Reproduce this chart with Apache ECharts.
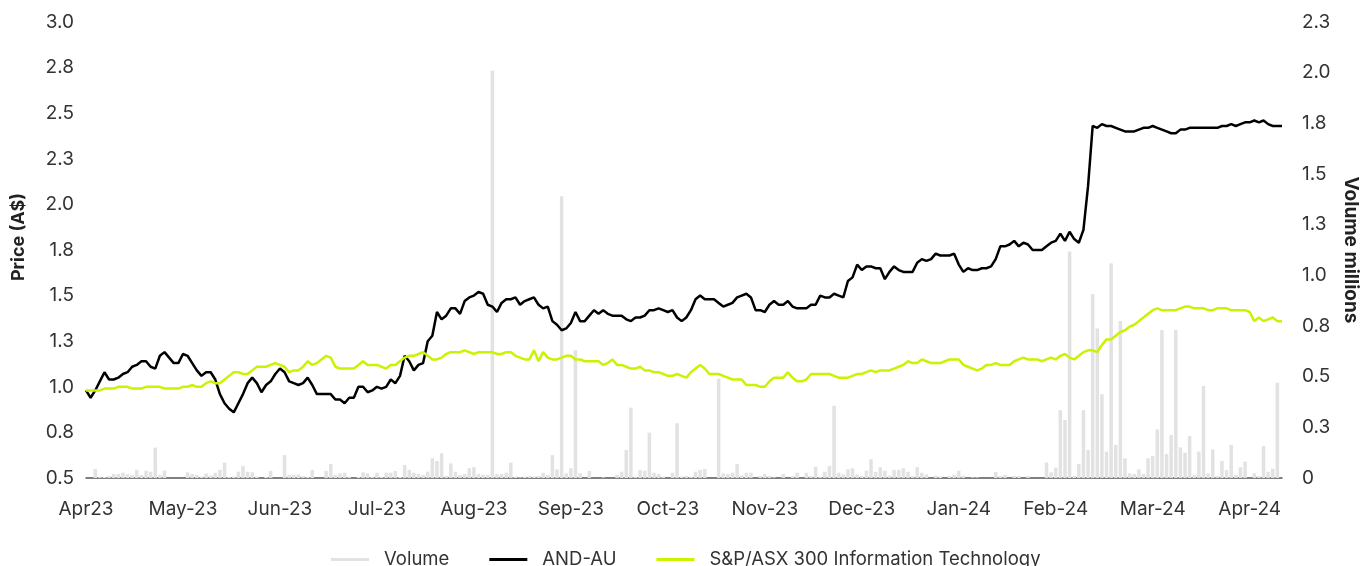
<!DOCTYPE html>
<html>
<head>
<meta charset="utf-8">
<title>AND-AU price and volume</title>
<script src="https://cdn.jsdelivr.net/npm/echarts@6.0.0/dist/echarts.min.js"></script>
<style>
  html, body { margin: 0; padding: 0; background: #fff; }
  #main { width: 1361px; height: 566px; }
</style>
</head>
<body>
<div id="main"></div>
<script>
  // month tick labels, one every 21 trading days
  var monthLabels = ['Apr23', 'May-23', 'Jun-23', 'Jul-23', 'Aug-23', 'Sep-23', 'Oct-23',
    'Nov-23', 'Dec-23', 'Jan-24', 'Feb-24', 'Mar-24', 'Apr-24'];

  // AND-AU close price (A$), daily
  var andPrice = [
    0.98,0.94,0.98,1.03,1.08,1.04,1.04,1.05,1.07,1.08,1.11,1.12,1.14,1.14,1.11,1.10,1.17,1.19,1.16,1.13,
    1.13,1.18,1.17,1.13,1.09,1.06,1.08,1.08,1.04,0.96,0.91,0.88,0.86,0.91,0.96,1.02,1.05,1.02,0.97,1.01,
    1.03,1.07,1.10,1.08,
    1.03,1.02,1.01,1.02,1.05,1.01,0.96,0.96,0.96,0.96,0.93,0.93,0.91,0.94,0.94,1.00,1.00,0.97,0.98,1.00,
    0.99,1.00,1.04,1.02,1.06,1.17,1.14,1.09,1.12,1.13,1.25,1.28,1.41,1.37,1.39,1.43,1.43,1.40,1.47,1.49,
    1.50,1.52,
    1.51,1.45,1.44,1.41,1.46,1.48,1.48,1.49,1.45,1.47,1.48,1.49,1.45,1.43,1.44,1.36,1.34,1.31,1.32,1.35,
    1.41,1.36,1.36,1.39,1.42,1.40,1.42,1.40,1.39,1.39,1.39,1.37,1.36,1.38,1.38,1.39,1.42,1.42,1.43,1.42,
    1.41,1.42,
    1.38,1.36,1.38,1.42,1.48,1.50,1.48,1.48,1.48,1.46,1.44,1.45,1.46,1.49,1.50,1.51,1.49,1.42,1.42,1.41,
    1.45,1.47,1.45,1.45,1.47,1.44,1.43,1.43,1.43,1.45,1.45,1.50,1.49,1.49,1.51,1.50,1.49,1.58,1.60,1.67,
    1.64,1.66,1.66,
    1.65,1.65,1.59,1.63,1.66,1.64,1.63,1.63,1.63,1.68,1.70,1.69,1.70,1.73,1.72,1.72,1.72,1.73,1.67,1.63,
    1.65,1.64,1.64,1.65,1.65,1.66,1.70,1.77,1.77,1.78,1.80,1.77,1.79,1.78,1.75,1.75,1.75,1.77,1.79,1.80,
    1.84,1.80,
    1.85,1.81,1.79,1.86,2.10,2.43,2.42,2.44,2.43,2.43,2.42,2.41,2.40,2.40,2.40,2.41,2.42,2.42,2.43,2.42,
    2.41,2.40,2.39,2.39,2.41,2.41,2.42,2.42,2.42,2.42,2.42,2.42,2.42,2.43,2.43,2.44,2.43,2.44,2.45,2.45,
    2.46,2.45,2.46,2.44,2.43,2.43,2.43
  ];

  // S&P/ASX 300 Information Technology, rebased to AND-AU start
  var techIndex = [
    0.98,0.98,0.98,0.98,0.99,0.99,0.99,1.00,1.00,1.00,0.99,0.99,0.99,1.00,1.00,1.00,1.00,0.99,0.99,0.99,
    0.99,1.00,1.00,1.01,1.00,1.00,1.02,1.03,1.02,1.02,1.04,1.06,1.08,1.08,1.07,1.07,1.09,1.11,1.11,1.11,
    1.12,1.13,1.12,1.11,
    1.08,1.09,1.09,1.11,1.14,1.12,1.13,1.15,1.17,1.16,1.11,1.10,1.10,1.10,1.10,1.12,1.14,1.12,1.12,1.12,
    1.11,1.10,1.12,1.12,1.14,1.16,1.17,1.17,1.18,1.19,1.17,1.15,1.15,1.16,1.18,1.19,1.19,1.19,1.20,1.19,
    1.18,1.19,
    1.19,1.19,1.19,1.18,1.18,1.19,1.19,1.17,1.16,1.15,1.15,1.20,1.14,1.19,1.16,1.15,1.15,1.16,1.17,1.17,
    1.15,1.15,1.14,1.14,1.14,1.14,1.12,1.13,1.15,1.12,1.12,1.11,1.10,1.10,1.11,1.09,1.09,1.08,1.08,1.07,
    1.06,1.06,
    1.07,1.06,1.05,1.08,1.10,1.12,1.10,1.07,1.07,1.07,1.06,1.05,1.04,1.04,1.04,1.01,1.01,1.01,1.00,1.00,
    1.03,1.05,1.05,1.05,1.08,1.05,1.03,1.03,1.04,1.07,1.07,1.07,1.07,1.07,1.06,1.05,1.05,1.05,1.06,1.07,
    1.07,1.08,1.09,
    1.08,1.09,1.09,1.09,1.10,1.11,1.12,1.14,1.13,1.13,1.15,1.14,1.13,1.13,1.13,1.14,1.15,1.15,1.15,1.12,
    1.11,1.10,1.09,1.10,1.12,1.12,1.13,1.12,1.12,1.12,1.14,1.15,1.16,1.15,1.15,1.15,1.14,1.15,1.16,1.15,
    1.17,1.18,
    1.16,1.15,1.17,1.19,1.20,1.20,1.19,1.23,1.26,1.26,1.28,1.30,1.31,1.33,1.34,1.36,1.38,1.40,1.42,1.43,
    1.42,1.42,1.42,1.42,1.43,1.44,1.44,1.43,1.43,1.43,1.42,1.42,1.43,1.43,1.43,1.42,1.42,1.42,1.42,1.41,
    1.36,1.38,1.36,1.37,1.38,1.36,1.36
  ];

  // daily volume, millions
  var volume = [
    0,0,0.044,0.007,0.005,0.01,0.02,0.02,0.026,0.018,
    0.015,0.04,0.015,0.036,0.031,0.15,0.015,0.036,0,0,
    0,0,0.028,0.02,0.015,0.007,0.023,0.012,0.026,0.04,
    0.076,0.005,0.007,0.031,0.059,0.031,0.028,0.007,0,0.005,
    0.035,0,0,0.113,0.016,0.015,0.018,0.01,0.005,0.04,
    0,0,0.035,0.069,0.015,0.023,0.026,0.007,0,0.005,
    0.028,0.023,0.005,0.026,0.005,0.026,0.026,0.035,0.005,0.064,
    0.04,0.026,0.02,0.015,0.031,0.097,0.084,0.122,0.01,0.072,
    0.031,0.015,0.02,0.048,0.053,0.02,0.016,0.016,2.01,0.02,
    0.02,0.026,0.076,0.007,0.003,0.007,0.01,0.007,0.01,0.026,
    0.015,0.113,0.043,1.39,0.023,0.048,0.63,0.023,0,0.035,
    0,0,0.003,0,0,0.015,0.031,0.138,0.347,0.007,
    0.04,0.036,0.224,0.026,0.02,0.007,0,0.026,0.27,0.007,
    0.01,0.007,0.031,0.04,0.044,0,0,0.49,0.023,0.02,
    0.026,0.069,0.013,0.026,0.026,0,0.01,0.02,0.01,0.003,
    0,0.02,0,0.01,0.026,0,0.026,0.01,0.056,0.007,
    0.031,0.059,0.357,0.026,0.018,0.043,0.048,0.018,0.01,0.036,
    0.092,0.03,0.053,0.036,0.012,0.04,0.04,0.048,0.031,0.01,
    0.053,0.026,0.018,0,0.012,0.007,0,0.01,0.015,0.036,
    0.012,0,0.003,0.003,0,0,0,0.03,0.01,0.015,
    0,0.01,0.01,0,0.01,0,0,0,0.077,0.028,
    0.051,0.335,0.286,1.117,0.01,0.069,0.335,0.138,0.908,0.738,
    0.414,0.13,1.059,0.163,0.775,0.097,0.023,0.02,0.043,0.02,
    0.097,0.109,0.24,0.73,0.118,0.212,0.73,0.151,0.125,0.207,
    0.015,0.13,0.454,0.023,0.141,0.01,0.084,0.039,0.163,0.015,
    0.053,0.081,0,0.023,0.01,0.158,0.031,0.046,0.47,0
  ];

  var days = volume.map(function (v, i) { return i; });

  var fontName = 'Inter, "Noto Sans", sans-serif';
  var labelColor = '#333';

  var myChart = echarts.init(document.getElementById('main'), null, { renderer: 'canvas' });

  myChart.setOption({
    animation: false,
    textStyle: { fontFamily: fontName },
    grid: { left: 86, right: 79, top: 22, bottom: 88, containLabel: false, outerBoundsMode: 'none' },
    legend: {
      left: 326,
      top: 545,
      icon: 'rect',
      itemWidth: 38,
      itemHeight: 3,
      itemGap: 40,
      textStyle: { fontSize: 18.5, color: labelColor, fontFamily: fontName, padding: [0, 0, 0, 10] },
      data: ['Volume', 'AND-AU', 'S&P/ASX 300 Information Technology']
    },
    xAxis: {
      type: 'category',
      data: days,
      boundaryGap: false,
      axisLine: { lineStyle: { color: '#555', width: 1.5 } },
      axisTick: { show: false },
      axisLabel: {
        interval: 20,
        margin: 22,
        fontSize: 19,
        color: labelColor,
        formatter: function (value, index) {
          return monthLabels[index / 21] || '';
        }
      },
      splitLine: { show: false }
    },
    yAxis: [{
      type: 'value',
      min: 0.5,
      max: 3.0,
      interval: 0.25,
      name: 'Price (A$)',
      nameLocation: 'middle',
      nameGap: 58,
      nameTextStyle: { fontSize: 18, fontWeight: 'bold', color: '#222', padding: [0, 0, 0, 26] },
      axisLine: { show: false },
      axisTick: { show: false },
      splitLine: { show: false },
      axisLabel: {
        fontSize: 19,
        color: labelColor,
        margin: 12,
        formatter: function (v) { return v.toFixed(1); }
      }
    }, {
      type: 'value',
      min: 0,
      max: 2.25,
      interval: 0.25,
      name: 'Volume millions',
      nameLocation: 'middle',
      nameGap: 56,
      nameRotate: -90,
      nameTextStyle: { fontSize: 19, fontWeight: 'bold', color: '#222' },
      axisLine: { show: false },
      axisTick: { show: false },
      splitLine: { show: false },
      axisLabel: {
        fontSize: 19,
        color: labelColor,
        margin: 20,
        formatter: function (v) { return v === 0 ? '0' : v.toFixed(1); }
      }
    }],
    series: [{
      name: 'Volume',
      type: 'bar',
      yAxisIndex: 1,
      data: volume,
      barWidth: 3.5,
      itemStyle: { color: '#e2e2e2' }
    }, {
      name: 'AND-AU',
      type: 'line',
      yAxisIndex: 0,
      data: andPrice,
      showSymbol: false,
      symbol: 'none',
      lineStyle: { color: '#000', width: 2.5 },
      itemStyle: { color: '#000' }
    }, {
      name: 'S&P/ASX 300 Information Technology',
      type: 'line',
      yAxisIndex: 0,
      data: techIndex,
      showSymbol: false,
      symbol: 'none',
      lineStyle: { color: '#c8f400', width: 2.5 },
      itemStyle: { color: '#c8f400' }
    }]
  });
</script>
</body>
</html>
